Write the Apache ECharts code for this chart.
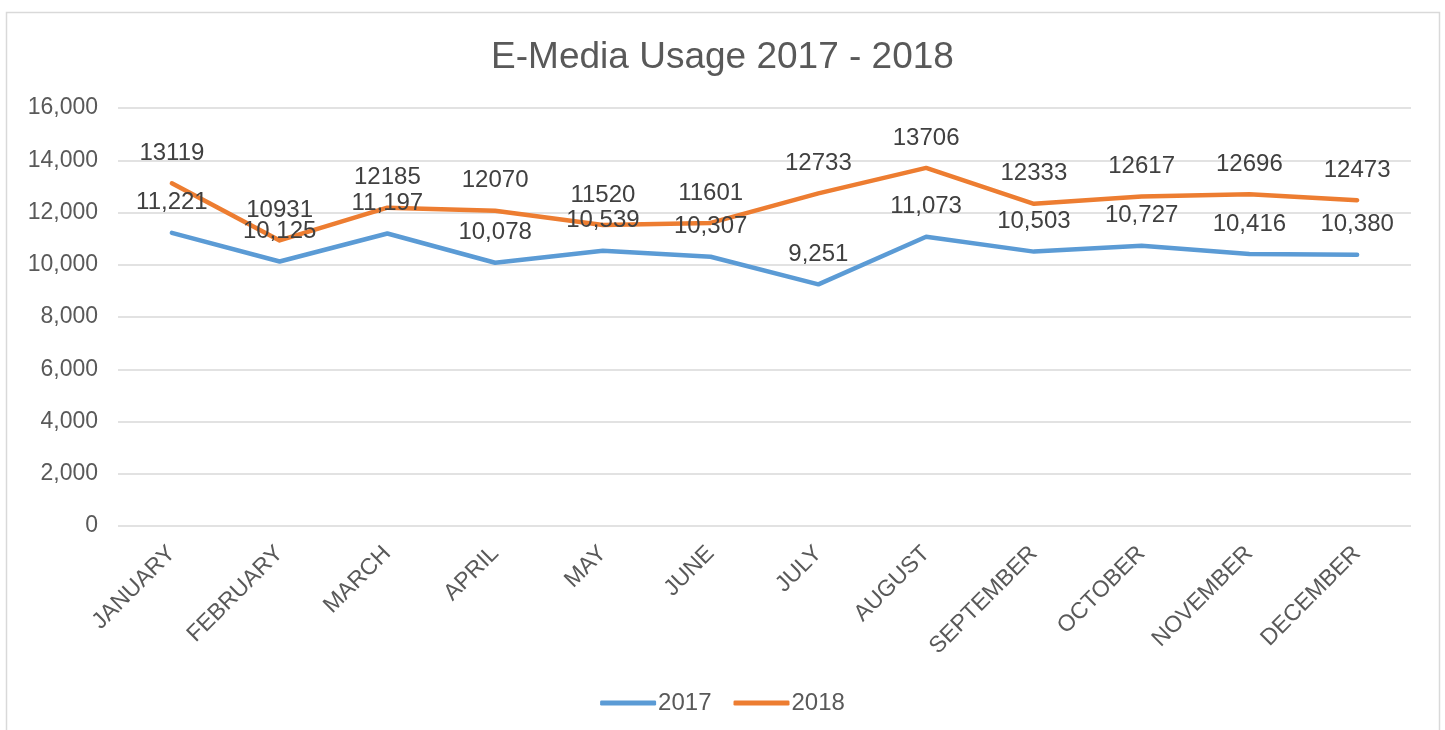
<!DOCTYPE html>
<html>
<head>
<meta charset="utf-8">
<script src="https://cdn.jsdelivr.net/npm/echarts@6/dist/echarts.min.js"></script>
<style>
  html, body { margin: 0; padding: 0; background: #fff; }
  #chart_container { width: 1445px; height: 730px; }
</style>
</head>
<body>
<div id="chart_container"></div>
<script>
// 数据
const months = ['JANUARY', 'FEBRUARY', 'MARCH', 'APRIL', 'MAY', 'JUNE', 'JULY', 'AUGUST', 'SEPTEMBER', 'OCTOBER', 'NOVEMBER', 'DECEMBER']
const usage2017 = [11221, 10125, 11197, 10078, 10539, 10307, 9251, 11073, 10503, 10727, 10416, 10380]
const usage2018 = [13119, 10931, 12185, 12070, 11520, 11601, 12733, 13706, 12333, 12617, 12696, 12473]

const font = 'Liberation Sans, Arial, sans-serif'
const textColor = '#595959'

let chartPlot = echarts.init(document.getElementById('chart_container'))
let option = {
  color: ['#5B9BD5', '#ED7D31'],
  title: {
    text: 'E-Media Usage 2017 - 2018',
    left: 'center',
    top: 34,
    textStyle: { fontFamily: font, fontSize: 37, fontWeight: 'normal', color: textColor },
  },
  graphic: [
    {
      type: 'rect',
      shape: { x: 6.5, y: 12.5, width: 1433, height: 740 },
      style: { fill: 'none', stroke: '#d9d9d9', lineWidth: 1.5 },
      silent: true,
    },
  ],
  legend: {
    bottom: 10,
    left: 'center',
    itemWidth: 56,
    itemHeight: 5,
    itemGap: 22,
    icon: 'roundRect',
    textStyle: { fontFamily: font, fontSize: 24, color: textColor, padding: [0, 0, 0, -3] },
    data: ['2017', '2018'],
  },
  grid: {
    left: 118,
    right: 34,
    top: 108,
    bottom: 204,
  },
  xAxis: {
    type: 'category',
    data: months,
    boundaryGap: true,
    axisLine: { show: false },
    axisTick: { show: false },
    axisLabel: {
      rotate: 45,
      margin: 24,
      fontFamily: font,
      fontSize: 23,
      color: textColor,
    },
  },
  yAxis: {
    type: 'value',
    min: 0,
    max: 16000,
    interval: 2000,
    axisLine: { show: false },
    axisTick: { show: false },
    axisLabel: {
      margin: 20,
      fontFamily: font,
      fontSize: 23,
      color: textColor,
      formatter: (v) => v.toLocaleString('en-US'),
    },
    splitLine: { lineStyle: { color: '#d9d9d9', width: 1.5 } },
  },
  series: [
    {
      name: '2017',
      type: 'line',
      data: usage2017,
      symbol: 'circle',
      symbolSize: 2,
      showSymbol: true,
      lineStyle: { width: 4.5, cap: 'round', join: 'round' },
      label: {
        show: true,
        position: 'top',
        distance: 17,
        fontFamily: font,
        fontSize: 24,
        color: '#404040',
        formatter: (p) => p.value.toLocaleString('en-US'),
      },
    },
    {
      name: '2018',
      type: 'line',
      data: usage2018,
      symbol: 'circle',
      symbolSize: 2,
      showSymbol: true,
      lineStyle: { width: 4.5, cap: 'round', join: 'round' },
      label: {
        show: true,
        position: 'top',
        distance: 17,
        fontFamily: font,
        fontSize: 24,
        color: '#404040',
        formatter: (p) => String(p.value),
      },
    },
  ],
}
chartPlot.setOption(option)
</script>
</body>
</html>
